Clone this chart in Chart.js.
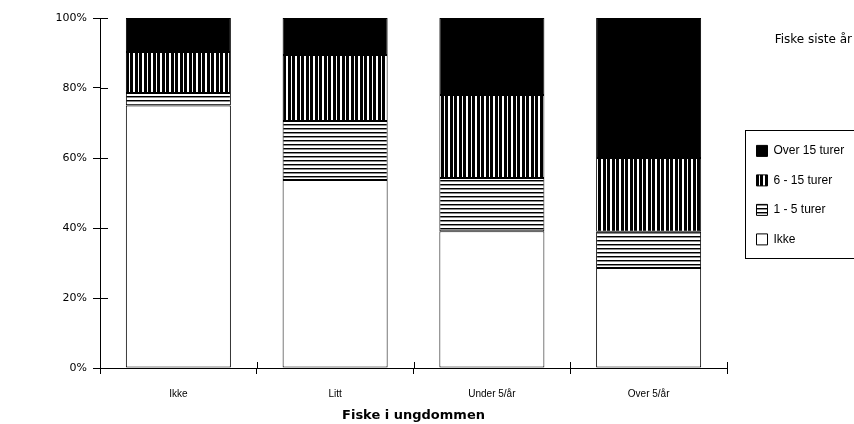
<!DOCTYPE html>
<html>
<head>
<meta charset="utf-8">
<script src="https://cdn.jsdelivr.net/npm/chart.js@4.4.1/dist/chart.umd.min.js"></script>
<style>
  html, body { margin: 0; padding: 0; background: #fff; }
  #wrap { width: 854px; height: 424px; }
</style>
</head>
<body>
<div id="wrap"><canvas id="chart" width="854" height="424"></canvas></div>
<script>
// andel (%) per gruppe, lest av figuren
const categories = ["Ikke", "Litt", "Under 5/år", "Over 5/år"];
const ikke = [75, 53.7, 39.1, 28.6];
const turer1til5 = [3.6, 16.9, 15.2, 10.3];
const turer6til15 = [11.7, 18.8, 23.7, 21.1];
const over15 = [9.7, 10.6, 22, 40];
const yTicks = [0, 20, 40, 60, 80, 100];

function stripes(vertical) {
  const c = document.createElement("canvas");
  const ctx = c.getContext("2d");
  if (vertical) {
    c.width = 9; c.height = 9;
    ctx.fillStyle = "#fff"; ctx.fillRect(0, 0, 9, 9);
    ctx.fillStyle = "#000";
    ctx.fillRect(0, 0, 3, 9);
    ctx.fillRect(4, 0, 3, 9);
  } else {
    c.width = 4; c.height = 4;
    ctx.fillStyle = "#fff"; ctx.fillRect(0, 0, 4, 4);
    ctx.fillStyle = "#000"; ctx.fillRect(0, 0, 4, 1);
    ctx.fillStyle = "rgba(0,0,0,0.45)"; ctx.fillRect(0, 1, 4, 1);
  }
  return ctx.createPattern(c, "repeat");
}

// fast bredde på legenden
const legendWidth = {
  id: "legendWidth",
  beforeLayout(chart) {
    const lg = chart.legend;
    if (lg && !lg.fixedFit) {
      const fit = lg.fit;
      lg.fit = function () { fit.call(this); this.width = 113; };
      lg.fixedFit = true;
    }
  }
};

// ramme rundt legenden + tikkmerker som krysser aksene
const extras = {
  id: "extras",
  afterDraw(chart) {
    const { ctx, chartArea, scales: { x, y } } = chart;
    ctx.save();
    ctx.strokeStyle = "#000";
    ctx.lineWidth = 1;
    ctx.beginPath();
    y.ticks.forEach((t, i) => {
      const py = Math.round(y.getPixelForTick(i)) + 0.5;
      ctx.moveTo(chartArea.left, py);
      ctx.lineTo(chartArea.left + 8, py);
    });
    const n = x.ticks.length;
    for (let k = 0; k <= n; k++) {
      const px = Math.round(x.getPixelForDecimal(k / n)) + 0.5;
      ctx.moveTo(px, chartArea.bottom);
      ctx.lineTo(px, chartArea.bottom - 6);
    }
    ctx.stroke();

    const boxes = chart.legend.legendHitBoxes;
    if (boxes && boxes.length) {
      const top = Math.min(...boxes.map(b => b.top)) - 15;
      const bottom = Math.max(...boxes.map(b => b.top + b.height)) + 13;
      const left = Math.round(chart.legend.left + 6) + 0.5;
      ctx.strokeRect(left, Math.round(top) + 0.5, chart.width, Math.round(bottom - top));
    }
    ctx.restore();
  }
};

const seg = (label, data, bg) => ({
  label: label,
  data: data,
  backgroundColor: bg,
  borderColor: "#000",
  borderWidth: 1,
  borderSkipped: false,
  barPercentage: 0.67,
  categoryPercentage: 1
});

new Chart(document.getElementById("chart"), {
  type: "bar",
  data: {
    labels: categories,
    datasets: [
      seg("Ikke", ikke, "#fff"),
      seg("1 - 5 turer", turer1til5, stripes(false)),
      seg("6 - 15 turer", turer6til15, stripes(true)),
      seg("Over 15 turer", over15, "#000")
    ]
  },
  options: {
    responsive: false,
    animation: false,
    devicePixelRatio: 1,
    layout: { padding: { top: 18, right: 2, bottom: 0, left: 0 } },
    plugins: {
      tooltip: { enabled: false },
      legend: {
        position: "right",
        align: "start",
        fullSize: true,
        reverse: true,
        title: {
          display: true,
          text: "Fiske siste år",
          position: "end",
          color: "#000",
          font: { family: "DejaVu Sans", size: 12 },
          padding: { top: 16, bottom: 79 }
        },
        labels: {
          color: "#000",
          boxWidth: 11,
          boxHeight: 11,
          padding: 17.5,
          font: { family: "Liberation Sans", size: 12 }
        }
      }
    },
    scales: {
      x: {
        stacked: true,
        afterFit: s => { s.height = 56; },
        border: { display: true, color: "#000", width: 1 },
        grid: { offset: true, drawOnChartArea: false, color: "#000", tickLength: 6 },
        ticks: {
          color: "#000",
          padding: 14,
          autoSkip: false,
          maxRotation: 0,
          font: { family: "Liberation Sans", size: 10 }
        },
        title: {
          display: true,
          text: "Fiske i ungdommen",
          color: "#000",
          font: { family: "DejaVu Sans", size: 13, weight: "bold" },
          padding: { top: 0, bottom: 1 }
        }
      },
      y: {
        stacked: true,
        min: 0,
        max: 100,
        afterFit: s => { s.width = 100; },
        afterBuildTicks: s => { s.ticks = yTicks.map(v => ({ value: v })); },
        border: { display: true, color: "#000", width: 1 },
        grid: { drawOnChartArea: false, color: "#000", tickLength: 7 },
        ticks: {
          color: "#000",
          padding: 6,
          font: { family: "DejaVu Sans", size: 11 },
          callback: v => v + "%"
        }
      },
      gap: {
        type: "linear",
        position: "right",
        display: true,
        afterFit: s => { s.width = 12; },
        grid: { display: false },
        border: { display: false },
        ticks: { display: false }
      }
    }
  },
  plugins: [legendWidth, extras]
});
</script>
</body>
</html>
